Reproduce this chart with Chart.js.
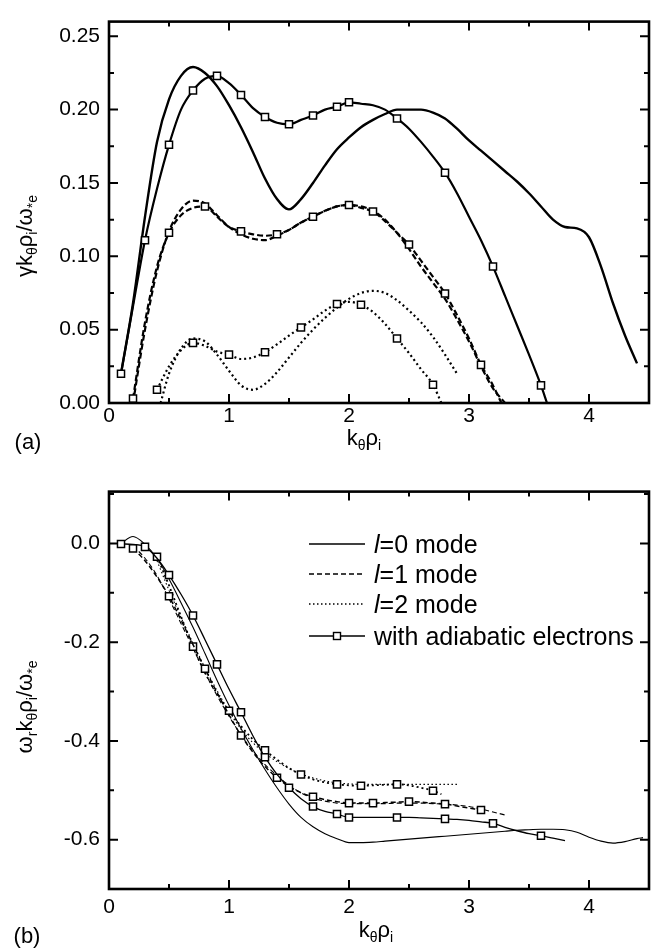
<!DOCTYPE html>
<html><head><meta charset="utf-8">
<script src="https://cdn.jsdelivr.net/npm/chart.js@4.4.1/dist/chart.umd.min.js"></script>
<style>
html,body{margin:0;padding:0;background:#fff;}
body{width:672px;height:952px;position:relative;overflow:hidden;font-family:'Liberation Sans',Arial,Helvetica,sans-serif;color:#000;}
canvas{position:absolute;left:0;}
.t{position:absolute;white-space:nowrap;line-height:1;font-size:22px;transform:translate(-50%,-50%);}
.t sub{font-size:14px;vertical-align:-5px;line-height:0;}
.rot{transform:translate(-50%,-50%) rotate(-90deg);}
.leg{position:absolute;left:374px;font-size:25px;line-height:26px;white-space:nowrap;}
</style></head><body>
<canvas id="ca" width="672" height="470" style="top:0"></canvas>
<canvas id="cb" width="672" height="482" style="top:470px"></canvas>

<div class="t rot" style="left:25px;top:236px">γk<sub>θ</sub>ρ<sub>i</sub>/ω<sub>*e</sub></div>
<div class="t" style="left:364px;top:438px">k<sub>θ</sub>ρ<sub>i</sub></div>
<div class="t" style="left:28px;top:442px">(a)</div>

<div class="t rot" style="left:25px;top:707px">ω<sub>r</sub>k<sub>θ</sub>ρ<sub>i</sub>/ω<sub>*e</sub></div>
<div class="t" style="left:376px;top:930px">k<sub>θ</sub>ρ<sub>i</sub></div>
<div class="t" style="left:27px;top:936px">(b)</div>

<svg style="position:absolute;left:0;top:0" width="672" height="952">
  <line x1="309" y1="544" x2="365" y2="544" stroke="#000" stroke-width="1.3"/>
  <line x1="309" y1="574" x2="365" y2="574" stroke="#000" stroke-width="1.3" stroke-dasharray="5,3"/>
  <line x1="309" y1="604" x2="365" y2="604" stroke="#000" stroke-width="1.5" stroke-dasharray="1.5,2.5"/>
  <line x1="309" y1="636" x2="365" y2="636" stroke="#000" stroke-width="1.3"/>
  <rect x="333.5" y="632.5" width="7" height="7" fill="#fff" stroke="#000" stroke-width="1.4"/>
</svg>
<div class="leg" style="top:531px"><i>l</i>=0 mode</div>
<div class="leg" style="top:561px"><i>l</i>=1 mode</div>
<div class="leg" style="top:591px"><i>l</i>=2 mode</div>
<div class="leg" style="top:623px">with adiabatic electrons</div>

<script>
// ---------- axis ticks ----------
const xTicks = [0, 1, 2, 3, 4];
const xMinorTicks = [0.5, 1.5, 2.5, 3.5];
const yTicksA = [0.00, 0.05, 0.10, 0.15, 0.20, 0.25];
const yMinorA = [0.025, 0.075, 0.125, 0.175, 0.225];
const yTicksB = [-0.6, -0.4, -0.2, 0.0];
const yMinorB = [-0.7, -0.5, -0.3, -0.1, 0.1];

// ---------- Panel (a): growth rate ----------
// l=0 mode (no markers)
const kA0 = [0.1,0.2,0.3,0.4,0.5,0.6,0.7,0.8,0.9,1.0,1.1,1.2,1.3,1.4,1.5,1.6,1.7,1.8,1.9,2.0,2.1,2.2,2.3,2.4,2.5,2.6,2.7,2.8,2.9,3.0,3.1,3.2,3.3,3.4,3.5,3.6,3.7,3.8,3.9,4.0,4.1,4.2,4.3,4.4];
const gA0 = [0.020,0.068,0.127,0.178,0.207,0.223,0.229,0.225,0.216,0.203,0.188,0.171,0.153,0.139,0.132,0.139,0.150,0.162,0.173,0.181,0.188,0.193,0.197,0.200,0.200,0.200,0.198,0.194,0.187,0.179,0.172,0.165,0.158,0.151,0.143,0.134,0.125,0.120,0.119,0.113,0.093,0.068,0.046,0.027];
// l=1 mode
const kA1 = [0.2,0.3,0.4,0.5,0.6,0.7,0.8,0.9,1.0,1.1,1.2,1.3,1.4,1.5,1.6,1.7,1.8,1.9,2.0,2.1,2.2,2.3,2.4,2.5,2.6,2.7,2.8,2.9,3.0,3.1,3.2,3.3];
const gA1 = [0.000,0.050,0.090,0.117,0.132,0.138,0.136,0.128,0.120,0.115,0.112,0.111,0.114,0.118,0.123,0.127,0.131,0.134,0.135,0.134,0.131,0.125,0.116,0.105,0.093,0.082,0.071,0.057,0.042,0.025,0.010,0.000];
// l=2 mode
const kA2 = [0.43,0.5,0.6,0.7,0.8,0.9,1.0,1.1,1.2,1.3,1.4,1.5,1.6,1.7,1.8,1.9,2.0,2.1,2.2,2.3,2.4,2.5,2.6,2.7,2.8,2.9];
const gA2 = [0.000,0.020,0.037,0.044,0.042,0.033,0.022,0.012,0.009,0.013,0.021,0.031,0.041,0.050,0.058,0.065,0.071,0.075,0.0765,0.075,0.070,0.063,0.055,0.045,0.033,0.020];
// with adiabatic electrons (l=0, l=1, l=2), marker positions listed separately
const kA0ad = [0.1,0.2,0.3,0.4,0.5,0.6,0.7,0.8,0.9,1.0,1.1,1.2,1.3,1.4,1.5,1.6,1.7,1.8,1.9,2.0,2.1,2.2,2.3,2.4,2.5,2.6,2.7,2.8,2.9,3.0,3.1,3.2,3.3,3.4,3.5,3.6,3.65];
const gA0ad = [0.020,0.066,0.111,0.146,0.176,0.200,0.213,0.221,0.223,0.218,0.210,0.201,0.195,0.191,0.190,0.193,0.196,0.200,0.202,0.205,0.204,0.203,0.200,0.194,0.187,0.178,0.168,0.157,0.143,0.127,0.111,0.093,0.073,0.053,0.033,0.012,0.000];
const mA0ad = [0.1,0.3,0.5,0.7,0.9,1.1,1.3,1.5,1.7,1.9,2.0,2.4,2.8,3.2,3.6];
const kA1ad = [0.2,0.3,0.4,0.5,0.6,0.7,0.8,0.9,1.0,1.1,1.2,1.3,1.4,1.5,1.6,1.7,1.8,1.9,2.0,2.1,2.2,2.3,2.4,2.5,2.6,2.7,2.8,2.9,3.0,3.1,3.2,3.27];
const gA1ad = [0.003,0.055,0.093,0.116,0.128,0.133,0.134,0.127,0.120,0.117,0.115,0.114,0.115,0.118,0.123,0.127,0.131,0.134,0.135,0.133,0.1305,0.124,0.116,0.108,0.097,0.086,0.0747,0.060,0.044,0.026,0.012,0.000];
const mA1ad = [0.2,0.5,0.8,1.1,1.4,1.7,2.0,2.2,2.5,2.8,3.1];
const kA2ad = [0.4,0.5,0.6,0.7,0.8,0.9,1.0,1.1,1.2,1.3,1.4,1.5,1.6,1.7,1.8,1.9,2.0,2.1,2.2,2.3,2.4,2.5,2.6,2.7,2.77];
const gA2ad = [0.009,0.025,0.036,0.041,0.039,0.035,0.033,0.030,0.031,0.0346,0.040,0.046,0.0515,0.057,0.063,0.0675,0.069,0.067,0.062,0.054,0.044,0.034,0.023,0.0125,0.000];
const mA2ad = [0.4,0.7,1.0,1.3,1.6,1.9,2.1,2.4,2.7];

// ---------- Panel (b): real frequency ----------
const kB0 = [0.1,0.2,0.3,0.4,0.5,0.6,0.7,0.8,0.9,1.0,1.1,1.2,1.3,1.4,1.5,1.6,1.7,1.8,1.9,2.0,2.1,2.2,2.3,2.4,2.5,2.6,2.7,2.8,2.9,3.0,3.1,3.2,3.3,3.4,3.5,3.6,3.7,3.8,3.9,4.0,4.1,4.2,4.3,4.4,4.45];
const wB0 = [0.000,0.014,-0.002,-0.030,-0.072,-0.120,-0.170,-0.223,-0.277,-0.328,-0.375,-0.418,-0.458,-0.495,-0.528,-0.555,-0.574,-0.588,-0.598,-0.606,-0.606,-0.605,-0.603,-0.601,-0.599,-0.597,-0.595,-0.593,-0.591,-0.589,-0.587,-0.585,-0.583,-0.581,-0.580,-0.579,-0.579,-0.580,-0.585,-0.595,-0.603,-0.607,-0.604,-0.598,-0.596];
const kB1 = [0.2,0.3,0.4,0.5,0.6,0.7,0.8,0.9,1.0,1.1,1.2,1.3,1.4,1.5,1.6,1.7,1.8,1.9,2.0,2.1,2.2,2.3,2.4,2.5,2.6,2.7,2.8,2.9,3.0,3.1,3.2,3.3];
const wB1 = [-0.005,-0.030,-0.065,-0.112,-0.162,-0.212,-0.262,-0.308,-0.350,-0.388,-0.420,-0.448,-0.470,-0.490,-0.505,-0.516,-0.522,-0.526,-0.527,-0.527,-0.527,-0.527,-0.526,-0.526,-0.526,-0.527,-0.528,-0.530,-0.533,-0.538,-0.544,-0.550];
const kB2 = [0.4,0.5,0.6,0.7,0.8,0.9,1.0,1.1,1.2,1.3,1.4,1.5,1.6,1.7,1.8,1.9,2.0,2.1,2.2,2.3,2.4,2.5,2.6,2.7,2.8,2.9];
const wB2 = [-0.035,-0.095,-0.150,-0.202,-0.252,-0.298,-0.340,-0.376,-0.404,-0.425,-0.442,-0.456,-0.467,-0.475,-0.481,-0.485,-0.487,-0.488,-0.488,-0.488,-0.488,-0.488,-0.488,-0.488,-0.488,-0.488];
const kB0ad = [0.1,0.2,0.3,0.4,0.5,0.6,0.7,0.8,0.9,1.0,1.1,1.2,1.3,1.4,1.5,1.6,1.7,1.8,1.9,2.0,2.1,2.2,2.3,2.4,2.5,2.6,2.7,2.8,2.9,3.0,3.1,3.2,3.3,3.4,3.5,3.6,3.7,3.8];
const wB0ad = [-0.001,-0.002,-0.007,-0.030,-0.064,-0.103,-0.146,-0.195,-0.245,-0.295,-0.342,-0.390,-0.433,-0.468,-0.495,-0.517,-0.533,-0.543,-0.548,-0.555,-0.555,-0.555,-0.555,-0.555,-0.555,-0.556,-0.557,-0.558,-0.559,-0.561,-0.564,-0.567,-0.575,-0.582,-0.588,-0.592,-0.597,-0.602];
const mB0ad = [0.1,0.3,0.5,0.7,0.9,1.1,1.3,1.5,1.7,1.9,2.0,2.4,2.8,3.2,3.6];
const kB1ad = [0.2,0.3,0.4,0.5,0.6,0.7,0.8,0.9,1.0,1.1,1.2,1.3,1.4,1.5,1.6,1.7,1.8,1.9,2.0,2.1,2.2,2.3,2.4,2.5,2.6,2.7,2.8,2.9,3.0,3.1];
const wB1ad = [-0.010,-0.035,-0.068,-0.107,-0.155,-0.205,-0.254,-0.302,-0.347,-0.389,-0.423,-0.452,-0.4745,-0.492,-0.505,-0.513,-0.519,-0.523,-0.526,-0.526,-0.526,-0.525,-0.524,-0.523,-0.524,-0.526,-0.528,-0.532,-0.536,-0.540];
const mB1ad = [0.2,0.5,0.8,1.1,1.4,1.7,2.0,2.2,2.5,2.8,3.1];
const kB2ad = [0.4,0.5,0.6,0.7,0.8,0.9,1.0,1.1,1.2,1.3,1.4,1.5,1.6,1.7,1.8,1.9,2.0,2.1,2.2,2.3,2.4,2.5,2.6,2.7,2.77];
const wB2ad = [-0.027,-0.085,-0.148,-0.209,-0.262,-0.304,-0.339,-0.370,-0.397,-0.419,-0.438,-0.455,-0.468,-0.478,-0.484,-0.488,-0.490,-0.491,-0.490,-0.489,-0.488,-0.490,-0.495,-0.501,-0.508];
const mB2ad = [0.4,0.7,1.0,1.3,1.6,1.9,2.1,2.4,2.7];

// ---------- helpers ----------
const FONT = "'Liberation Sans', Arial, Helvetica, sans-serif";
const isMark = (marks, x) => marks.some(m => Math.abs(m - x) < 1e-9);

function series(ks, vs, width, dash, marks) {
  return {
    data: ks.map((k, i) => ({x: k, y: vs[i]})),
    borderColor: '#000',
    borderWidth: width,
    borderDash: dash,
    fill: false,
    cubicInterpolationMode: 'monotone',
    pointStyle: 'rect',
    pointRadius: marks ? (c => (c.raw && isMark(marks, c.raw.x)) ? 5 : 0) : 0,
    pointHoverRadius: 0,
    pointBackgroundColor: '#fff',
    pointBorderColor: '#000',
    pointBorderWidth: 1.5
  };
}

const framePlugin = {
  id: 'frame',
  afterDatasetsDraw(chart, args, o) {
    const {ctx, chartArea: a, scales: {x, y}} = chart;
    ctx.save();
    ctx.strokeStyle = '#000';
    ctx.lineCap = 'butt';
    ctx.lineWidth = 2;
    ctx.beginPath();
    const tick = (vals, len, horiz) => vals.forEach(v => {
      if (horiz) {
        const p = x.getPixelForValue(v);
        ctx.moveTo(p, a.bottom); ctx.lineTo(p, a.bottom - len);
        ctx.moveTo(p, a.top); ctx.lineTo(p, a.top + len);
      } else {
        const p = y.getPixelForValue(v);
        ctx.moveTo(a.left, p); ctx.lineTo(a.left + len, p);
        ctx.moveTo(a.right, p); ctx.lineTo(a.right - len, p);
      }
    });
    tick(o.xMajor, 9, true); tick(o.xMinor, 5, true);
    tick(o.yMajor, 9, false); tick(o.yMinor, 5, false);
    ctx.stroke();
    ctx.lineWidth = 2.6;
    ctx.strokeRect(a.left, a.top, a.right - a.left, a.bottom - a.top);
    ctx.restore();
  }
};

function makeChart(id, datasets, yMin, yMax, yTicks, yMinor, dec, pad, xAxisH, xPad) {
  return new Chart(document.getElementById(id), {
    type: 'line',
    data: {datasets},
    plugins: [framePlugin],
    options: {
      responsive: false, animation: false, events: [],
      layout: {padding: {top: pad, right: 23, left: 0, bottom: 0}},
      plugins: {legend: {display: false}, tooltip: {enabled: false},
        frame: {xMajor: xTicks, xMinor: xMinorTicks, yMajor: yTicks, yMinor: yMinor}},
      scales: {
        x: {type: 'linear', min: 0, max: 4.5,
          grid: {display: false, drawTicks: false}, border: {display: false},
          afterBuildTicks: s => { s.ticks = xTicks.map(v => ({value: v})); },
          afterFit: s => { s.height = xAxisH; },
          ticks: {color: '#000', font: {family: FONT, size: 21}, padding: xPad, maxRotation: 0,
            callback: v => String(v)}},
        y: {type: 'linear', min: yMin, max: yMax,
          grid: {display: false, drawTicks: false}, border: {display: false},
          afterBuildTicks: s => { s.ticks = yTicks.map(v => ({value: v})); },
          afterFit: s => { s.width = 109; },
          ticks: {color: '#000', font: {family: FONT, size: 21}, padding: 9,
            callback: v => Number(v).toFixed(dec)}}
      }
    }
  });
}

makeChart('ca', [
  series(kA0ad, gA0ad, 2.2, [], mA0ad),
  series(kA1ad, gA1ad, 2.2, [6, 3], mA1ad),
  series(kA2ad, gA2ad, 2.2, [2, 3], mA2ad),
  series(kA0, gA0, 2.4, [], null),
  series(kA1, gA1, 2.2, [6, 3], null),
  series(kA2, gA2, 2.2, [2, 3], null)
], 0, 0.26, yTicksA, yMinorA, 2, 5, 67, 1);

makeChart('cb', [
  series(kB0ad, wB0ad, 1.3, [], mB0ad),
  series(kB1ad, wB1ad, 1.5, [5, 3], mB1ad),
  series(kB2ad, wB2ad, 1.8, [2, 3], mB2ad),
  series(kB0, wB0, 1.1, [], null),
  series(kB1, wB1, 1.1, [5, 3], null),
  series(kB2, wB2, 1.1, [1.5, 2.5], null)
], -0.7, 0.105, yTicksB, yMinorB, 1, 18, 63, 6);
</script>
</body></html>
